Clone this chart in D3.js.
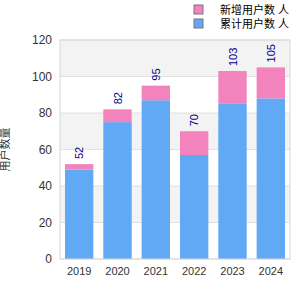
<!DOCTYPE html>
<html>
<head>
<meta charset="utf-8">
<script src="https://cdn.jsdelivr.net/npm/d3@7"></script>
<style>
  body { margin: 0; background: #fff; }
  text { font-family: "Liberation Sans", "Noto Sans CJK SC", sans-serif; }
</style>
</head>
<body>
<div id="chart"></div>
<script>
const years = ["2019", "2020", "2021", "2022", "2023", "2024"];
const baseValues = [49, 75, 87, 57, 85, 88];
const extraValues = [3, 7, 8, 13, 18, 17];
const totals = [52, 82, 95, 70, 103, 105];
const yTicks = [0, 20, 40, 60, 80, 100, 120];
const seriesNames = ["新增用户数 人", "累计用户数 人"];
const yTitle = "用户数量";

const width = 300, height = 300;
const margin = { top: 40, right: 10, bottom: 41, left: 60 };
const innerW = width - margin.left - margin.right;
const innerH = height - margin.top - margin.bottom;

const svg = d3.select("#chart").append("svg")
  .attr("width", width).attr("height", height);
const g = svg.append("g")
  .attr("transform", `translate(${margin.left},${margin.top})`);

const x = d3.scaleBand().domain(years).range([0, innerW]).paddingInner(0.26).paddingOuter(0.13);
const y = d3.scaleLinear().domain([0, 120]).range([innerH, 0]);

// alternating bands
const bands = d3.pairs(yTicks);
g.selectAll(".band").data(bands).join("rect")
  .attr("x", 0).attr("width", innerW)
  .attr("y", d => y(d[1]))
  .attr("height", d => y(d[0]) - y(d[1]))
  .attr("fill", (d, i) => i % 2 === 0 ? "#fff" : "#f3f3f3");

// gridlines
g.selectAll(".grid").data(yTicks).join("line")
  .attr("x1", 0).attr("x2", innerW)
  .attr("y1", d => y(d)).attr("y2", d => y(d))
  .attr("stroke", "#e0e0e0");

// bars
const rows = years.map((yr, i) => ({ year: yr, base: baseValues[i], extra: extraValues[i], total: totals[i] }));
g.selectAll(".base").data(rows).join("rect")
  .attr("x", d => x(d.year)).attr("width", x.bandwidth())
  .attr("y", d => y(d.base)).attr("height", d => innerH - y(d.base))
  .attr("fill", "#61a8f5");
g.selectAll(".extra").data(rows).join("rect")
  .attr("x", d => x(d.year)).attr("width", x.bandwidth())
  .attr("y", d => y(d.base + d.extra)).attr("height", d => y(d.base) - y(d.base + d.extra))
  .attr("fill", "#f383bd");

// value labels
g.selectAll(".lbl").data(rows).join("text")
  .attr("transform", d => `translate(${x(d.year) + x.bandwidth() / 2 + 4},${y(d.total) - 5}) rotate(-90)`)
  .attr("text-anchor", "start")
  .attr("font-size", 11)
  .attr("fill", "#00008b")
  .text(d => d.total);

// plot border
g.append("rect").attr("width", innerW).attr("height", innerH)
  .attr("fill", "none").attr("stroke", "#d8d8d8");

// axes
const yAxis = g.append("g").call(d3.axisLeft(y).tickValues(yTicks).tickSize(0).tickPadding(8));
yAxis.select(".domain").remove();
yAxis.selectAll("text").attr("font-size", 12).attr("fill", "#333");

const xAxis = g.append("g").attr("transform", `translate(0,${innerH})`)
  .call(d3.axisBottom(x).tickSize(0).tickPadding(8));
xAxis.select(".domain").remove();
xAxis.selectAll("text").attr("font-size", 11).attr("fill", "#333");

// y title
svg.append("text")
  .attr("transform", `translate(9,${margin.top + innerH / 2}) rotate(-90)`)
  .attr("text-anchor", "middle")
  .attr("font-size", 11).attr("fill", "#333")
  .text(yTitle);

// legend
const legendColors = ["#f383bd", "#61a8f5"];
const lg = svg.append("g").attr("transform", "translate(194,5)");
seriesNames.forEach((name, i) => {
  lg.append("rect").attr("x", 0).attr("y", i * 14).attr("width", 9).attr("height", 9)
    .attr("fill", legendColors[i]).attr("stroke", "#777");
  lg.append("text").attr("x", 26).attr("y", i * 14 + 8.5)
    .attr("font-size", 11).attr("fill", "#000").text(name);
});
</script>
</body>
</html>
